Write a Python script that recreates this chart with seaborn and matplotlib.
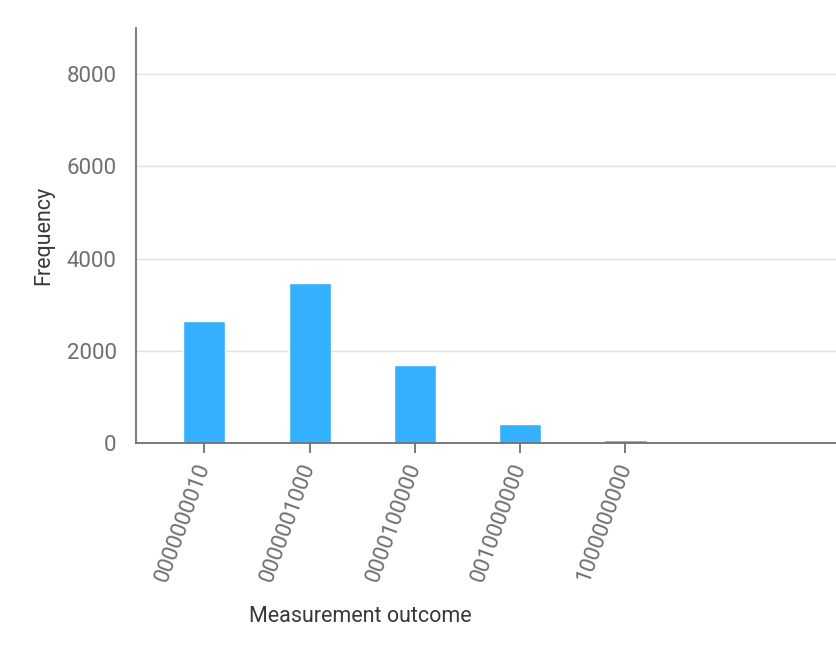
import matplotlib
matplotlib.use("Agg")
import matplotlib.pyplot as plt
import seaborn as sns
import pandas as pd

outcomes = ["0000000010", "0000001000", "0000100000", "0010000000", "1000000000"]
counts = [2652, 3472, 1696, 406, 56]
yticks = [0, 2000, 4000, 6000, 8000]

sns.set_style("white")
plt.rcParams["font.family"] = ["Roboto", "DejaVu Sans"]

df = pd.DataFrame({"outcome": outcomes, "count": counts})

fig = plt.figure(figsize=(8.36, 6.7), dpi=100)
ax = fig.add_axes([0.1627, 0.3388, 0.8373, 0.6194])

sns.barplot(data=df, x="outcome", y="count", order=outcomes, color="#33b1ff",
            saturation=1, width=0.4, ax=ax, zorder=2)

ax.set_xlim(-0.65, 6.0)
ax.set_ylim(0, 9000)
ax.set_yticks(yticks)
ax.yaxis.grid(True, color="#e0e0e0", linewidth=1, zorder=0)
ax.set_axisbelow(True)

sns.despine(ax=ax)
for s in ["left", "bottom"]:
    ax.spines[s].set_color("#6f6f6f")
    ax.spines[s].set_linewidth(1.3)

ax.tick_params(axis="y", length=0, pad=14, labelsize=16, labelcolor="#6f6f6f")
ax.tick_params(axis="x", length=7, width=1.3, color="#6f6f6f", pad=8,
               labelsize=16, labelcolor="#6f6f6f", bottom=True)
plt.setp(ax.get_xticklabels(), rotation=70, ha="right", va="center",
         rotation_mode="anchor")

ax.set_xlabel("Measurement outcome", fontsize=15.5, color="#393939", va="center")
ax.xaxis.set_label_coords(0.32, -0.419)
ax.set_ylabel("Frequency", fontsize=15.5, color="#393939")
ax.yaxis.set_label_coords(-0.117, 0.5)

fig.savefig("out.png", dpi=100)
